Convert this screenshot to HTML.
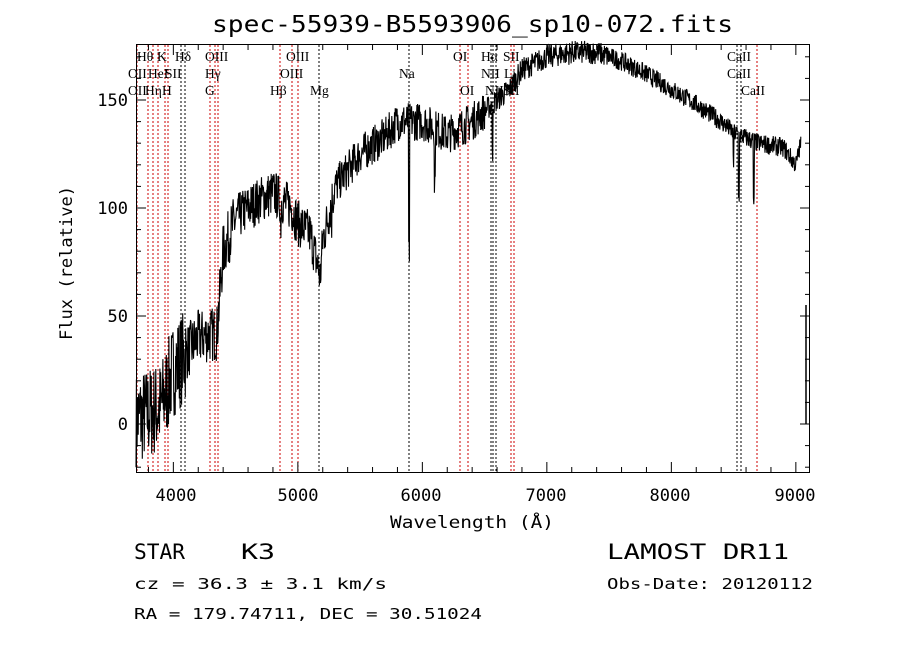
<!DOCTYPE html>
<html><head><meta charset="utf-8"><style>
body{margin:0;background:#fff;width:900px;height:649px;overflow:hidden}
text{font-family:"DejaVu Sans Mono","Liberation Mono",monospace}
.s text{font-family:"Liberation Serif",serif;font-size:13.5px}
</style></head><body>
<svg id="g" width="900" height="649" xmlns="http://www.w3.org/2000/svg">
<text x="212" y="32" textLength="521" lengthAdjust="spacingAndGlyphs" font-size="23" fill="#000">spec-55939-B5593906_sp10-072.fits</text>
<g id="lines"></g>
<path id="spec" fill="none" stroke="#000" stroke-width="1.1"/>
<line x1="806" y1="305" x2="806" y2="424" stroke="#000" stroke-width="1.5"/>
<rect x="136.5" y="44.5" width="673" height="428" fill="none" stroke="#000"/>
<g id="ticks" stroke="#000"></g>
<g font-size="17" text-anchor="middle">
<text x="176" y="501">4000</text><text x="298" y="501">5000</text><text x="421" y="501">6000</text><text x="546" y="501">7000</text><text x="670" y="501">8000</text><text x="795" y="501">9000</text>
</g>
<g font-size="17" text-anchor="end">
<text x="128" y="430">0</text><text x="128" y="322">50</text><text x="128" y="214">100</text><text x="128" y="106">150</text>
</g>
<text x="390" y="528" textLength="164" lengthAdjust="spacingAndGlyphs" font-size="17">Wavelength (Å)</text>
<text transform="translate(72,340) rotate(-90)" textLength="154" lengthAdjust="spacingAndGlyphs" font-size="17">Flux (relative)</text>
<text x="134" y="559" textLength="51" lengthAdjust="spacingAndGlyphs" font-size="21">STAR</text><text x="241" y="559" textLength="34" lengthAdjust="spacingAndGlyphs" font-size="21">K3</text>
<text x="607" y="559" textLength="182" lengthAdjust="spacingAndGlyphs" font-size="21">LAMOST DR11</text>
<text x="134" y="589" textLength="253" lengthAdjust="spacingAndGlyphs" font-size="15">cz = 36.3 ± 3.1 km/s</text>
<text x="607" y="589" textLength="206" lengthAdjust="spacingAndGlyphs" font-size="15">Obs-Date: 20120112</text>
<text x="134" y="619" textLength="348" lengthAdjust="spacingAndGlyphs" font-size="15">RA = 179.74711, DEC =  30.51024</text>
<g class="s" fill="#000">
<text x="137" y="61">Hθ</text><text x="157" y="61">K</text><text x="175" y="61">Hδ</text><text x="205" y="61">OIII</text><text x="286" y="61">OIII</text><text x="453" y="61">OI</text><text x="481" y="61">Hα</text><text x="503" y="61">SII</text><text x="727" y="61">CaII</text>
<text x="128" y="78">OII</text><text x="148" y="78">HeI</text><text x="165" y="78">SII</text><text x="205" y="78">Hγ</text><text x="280" y="78">OIII</text><text x="399" y="78">Na</text><text x="481" y="78">NII</text><text x="504" y="78">Li</text><text x="727" y="78">CaII</text>
<text x="128" y="95">OII</text><text x="145" y="95">Hη</text><text x="162" y="95">H</text><text x="205" y="95">G</text><text x="270" y="95">Hβ</text><text x="310" y="95">Mg</text><text x="460" y="95">OI</text><text x="485" y="95">NII</text><text x="503" y="95">SII</text><text x="741" y="95">CaII</text>
</g>
</svg>
<script>
var X=function(w){return 136+(w-3700)*0.1245},Y=function(f){return 424-f*2.16};
var L=document.getElementById('lines'),s='';
[[137,'r'],[148,'r'],[153,'r'],[158,'r'],[165,'r'],[168,'r'],[181,'k'],[185,'k'],[210,'r'],[215,'r'],[218,'r'],[280,'r'],[292,'r'],[298,'r'],[319,'k'],[409,'k'],[460,'r'],[468,'r'],[491,'k'],[493,'k'],[496,'k'],[511,'r'],[514,'r'],[737,'k'],[741,'k'],[757,'r']].forEach(function(a){
s+='<line x1="'+a[0]+'" y1="45" x2="'+a[0]+'" y2="472" stroke="'+(a[1]=='r'?'#c00':'#000')+'" stroke-dasharray="2,2" stroke-width="1"/>';});
L.innerHTML=s;
var T='';
for(var w=3800;w<=9100;w+=200){var x=X(w),m=(w%1000==0);T+='<line x1="'+x+'" y1="472" x2="'+x+'" y2="'+(472-(m?10:5))+'"/><line x1="'+x+'" y1="45" x2="'+x+'" y2="'+(45+(m?10:5))+'"/>';}
for(var f=-20;f<=170;f+=10){var y=Y(f),m=(f%50==0);T+='<line x1="136" y1="'+y+'" x2="'+(136+(m?10:5))+'" y2="'+y+'"/><line x1="810" y1="'+y+'" x2="'+(810-(m?10:5))+'" y2="'+y+'"/>';}
document.getElementById('ticks').innerHTML=T;
var E=[[3700,2],[3900,8],[4000,25],[4200,40],[4350,42],[4400,80],[4500,95],[4600,100],[4700,104],[4800,107],[4950,100],[5000,93],[5100,88],[5180,68],[5200,85],[5300,110],[5500,125],[5700,133],[5800,140],[6000,140],[6200,134],[6400,140],[6500,145],[6700,155],[6800,164],[7000,170],[7200,172],[7400,172],[7600,168],[7800,162],[8000,155],[8200,148],[8400,140],[8500,135],[8700,130],[8900,128],[9000,120],[9040,130]];
function env(w){for(var i=1;i<E.length;i++)if(w<=E[i][0]){var a=E[i-1],b=E[i];return a[1]+(b[1]-a[1])*(w-a[0])/(b[0]-a[0]);}return 130;}
var seed=7;function r(){seed=(seed*16807)%2147483647;return seed/2147483647-0.5;}
var dips=[[5893,60],[6100,25],[6563,25],[8498,15],[8542,28],[8662,28],[4861,10],[5270,8]];
var d='';
for(var w=3700;w<=9040;w+=3){var n=w<4100?44:w<4500?26:w<5300?22:w<6500?18:w<7500?11:9;var f=env(w)+r()*n;
dips.forEach(function(p){if(Math.abs(w-p[0])<4)f-=p[1];});
d+=(d?'L':'M')+X(w).toFixed(1)+','+Y(f).toFixed(1);}
document.getElementById('spec').setAttribute('d',d);
</script>
</body></html>
